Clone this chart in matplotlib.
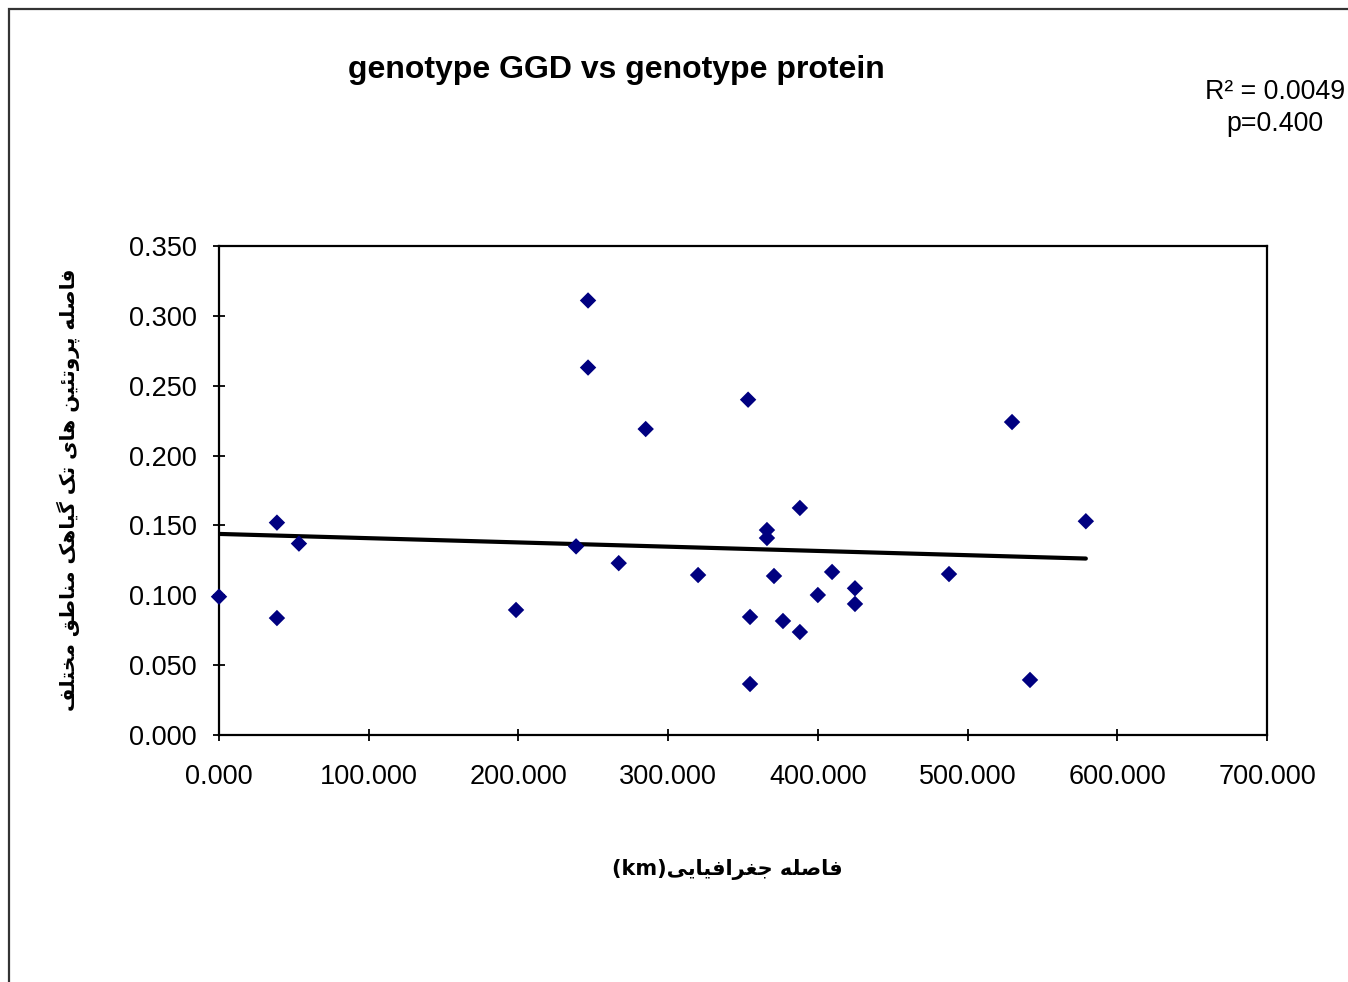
import matplotlib

matplotlib.use("Agg")
import matplotlib.pyplot as plt  # noqa: E402
import numpy as np  # noqa: E402
from matplotlib.patches import Rectangle  # noqa: E402
from matplotlib.ticker import FuncFormatter, MultipleLocator  # noqa: E402

plt.rcParams["font.family"] = ["Liberation Sans", "DejaVu Sans"]

# geographic distance (km) vs protein distance
distance_km = [0, 38.7, 38.7, 53.4, 198.4, 238.5, 246.5, 246.5, 267, 285,
               320, 353.4, 354.7, 354.7, 366, 366, 370.7, 376.7, 388, 388,
               400, 409.5, 424.8, 424.8, 487.6, 529.7, 541.7, 579]
protein_dist = [0.099, 0.152, 0.0837, 0.137, 0.0895, 0.135, 0.311, 0.263, 0.123, 0.219,
                0.1145, 0.240, 0.0845, 0.0365, 0.1467, 0.141, 0.1138, 0.0816, 0.0737, 0.1625,
                0.1002, 0.1167, 0.105, 0.0938, 0.1152, 0.224, 0.0394, 0.153]

TITLE = "genotype GGD vs genotype protein"
STATS = "R² = 0.0049\np=0.400"
XLABEL = "فاصله جغرافیایی"
YLABEL = "فاصله پروتئین های تک گیاهک مناطق مختلف"

# Arabic presentation forms: (isolated, final, initial, medial); None = right-joining only
FORMS = {
    "ا": (0xFE8D, 0xFE8E, None, None),
    "ر": (0xFEAD, 0xFEAE, None, None),
    "و": (0xFEED, 0xFEEE, None, None),
    "ت": (0xFE95, 0xFE96, 0xFE97, 0xFE98),
    "ج": (0xFE9D, 0xFE9E, 0xFE9F, 0xFEA0),
    "خ": (0xFEA5, 0xFEA6, 0xFEA7, 0xFEA8),
    "ص": (0xFEB9, 0xFEBA, 0xFEBB, 0xFEBC),
    "ط": (0xFEC1, 0xFEC2, 0xFEC3, 0xFEC4),
    "غ": (0xFECD, 0xFECE, 0xFECF, 0xFED0),
    "ف": (0xFED1, 0xFED2, 0xFED3, 0xFED4),
    "ق": (0xFED5, 0xFED6, 0xFED7, 0xFED8),
    "ل": (0xFEDD, 0xFEDE, 0xFEDF, 0xFEE0),
    "م": (0xFEE1, 0xFEE2, 0xFEE3, 0xFEE4),
    "ن": (0xFEE5, 0xFEE6, 0xFEE7, 0xFEE8),
    "ه": (0xFEE9, 0xFEEA, 0xFEEB, 0xFEEC),
    "ئ": (0xFE89, 0xFE8A, 0xFE8B, 0xFE8C),
    "پ": (0xFB56, 0xFB57, 0xFB58, 0xFB59),
    "ک": (0xFB8E, 0xFB8F, 0xFB90, 0xFB91),
    "گ": (0xFB92, 0xFB93, 0xFB94, 0xFB95),
    "ی": (0xFBFC, 0xFBFD, 0xFBFE, 0xFBFF),
}


def shape_rtl(text):
    """Join letters and reverse to visual order (matplotlib has no bidi)."""
    out = []
    for i, ch in enumerate(text):
        if ch not in FORMS:
            out.append(ch)
            continue
        prev = text[i - 1] if i > 0 else ""
        nxt = text[i + 1] if i + 1 < len(text) else ""
        joins_prev = prev in FORMS and FORMS[prev][2] is not None
        joins_next = nxt in FORMS and FORMS[ch][2] is not None
        iso, fin, ini, med = FORMS[ch]
        if joins_prev and joins_next:
            code = med
        elif joins_prev:
            code = fin
        elif joins_next:
            code = ini
        else:
            code = iso
        out.append(chr(code))
    return "".join(reversed(out))


W, H = 1348, 982
fig = plt.figure(figsize=(W / 100, H / 100), dpi=100)
fig.add_artist(Rectangle((9 / W, -0.1), 1.2, 1.1 - 8.5 / H, transform=fig.transFigure,
                         fill=False, edgecolor="#333333", linewidth=1.6))

ax = fig.add_axes([219 / W, 1 - 735 / H, (1267 - 219) / W, (735 - 246) / H])
ax.scatter(distance_km, protein_dist, marker="D", s=70, color="#000080",
           edgecolors="none", zorder=3, clip_on=False)

slope, intercept = np.polyfit(distance_km, protein_dist, 1)
xs = np.array([min(distance_km), max(distance_km)])
ax.plot(xs, slope * xs + intercept, color="black", linewidth=3, zorder=2,
        solid_capstyle="round")

ax.set_xlim(0, 700)
ax.set_ylim(0, 0.35)
ax.xaxis.set_major_locator(MultipleLocator(100))
ax.yaxis.set_major_locator(MultipleLocator(0.05))
ax.xaxis.set_major_formatter(FuncFormatter(lambda v, _: f"{v:.3f}"))
ax.yaxis.set_major_formatter(FuncFormatter(lambda v, _: f"{v:.3f}"))
ax.tick_params(direction="inout", length=8, width=1.3, labelsize=19.5, colors="black")
ax.tick_params(axis="x", pad=17)
ax.tick_params(axis="y", pad=12)
for s in ax.spines.values():
    s.set_linewidth(1.6)

fig.text(616 / W, 1 - 70 / H, TITLE, ha="center", va="center", fontsize=23,
         fontweight="bold")
fig.text(1275 / W, 1 - 108 / H, STATS, ha="center", va="center", fontsize=19.3,
         linespacing=1.3)
fig.text(727 / W, 1 - 869 / H, "(km)" + shape_rtl(XLABEL), ha="center", va="center",
         fontsize=15, fontweight="bold", family=["DejaVu Sans"])
fig.text(68 / W, 1 - 490 / H, shape_rtl(YLABEL), ha="center", va="center",
         rotation=90, fontsize=14.5, fontweight="bold", family=["DejaVu Sans"])

fig.savefig("out.png", dpi=100)
